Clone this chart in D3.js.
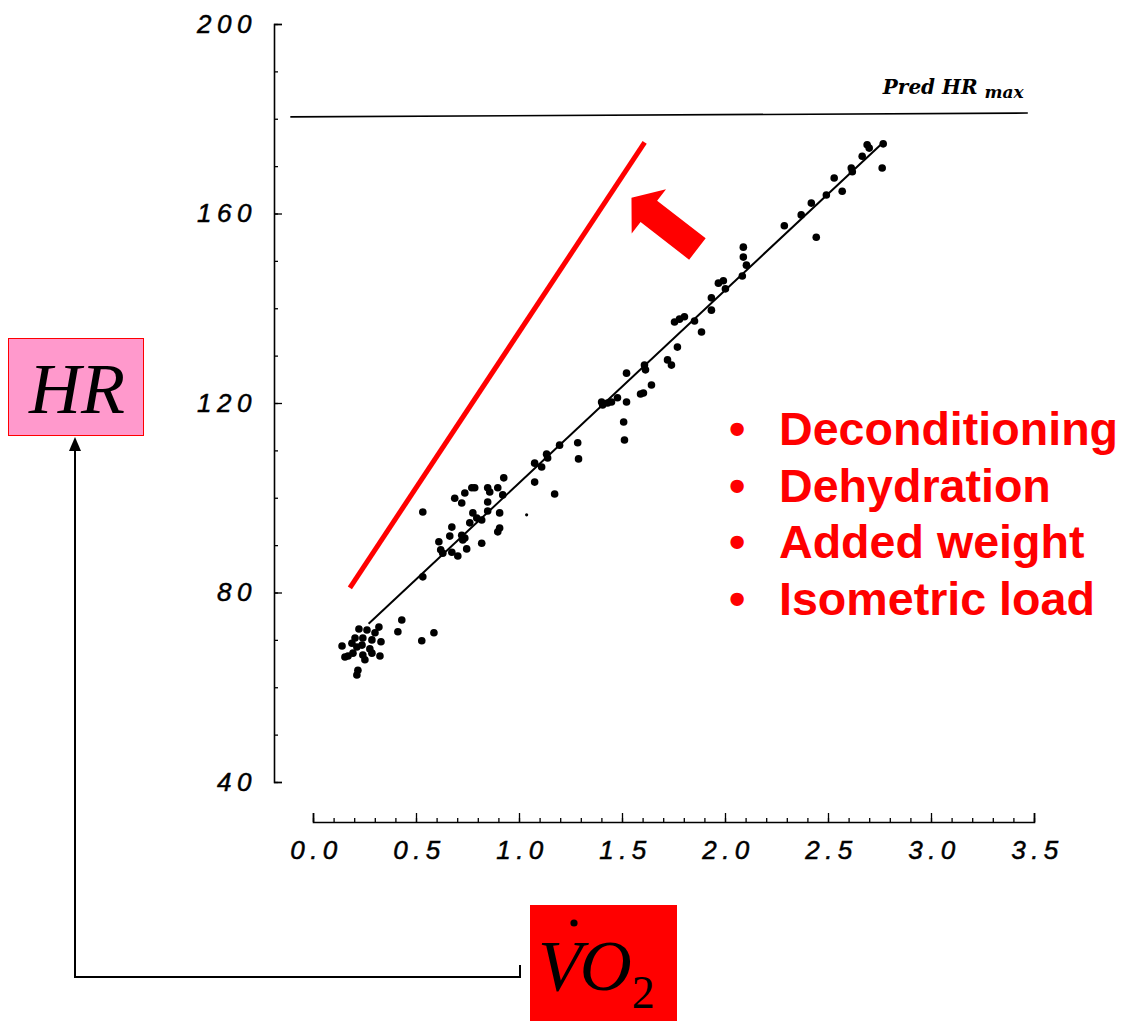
<!DOCTYPE html>
<html>
<head>
<meta charset="utf-8">
<script src="https://cdn.jsdelivr.net/npm/d3@7"></script>
<style>body{margin:0;background:#fff}</style>
</head>
<body>
<svg id="chart" width="1130" height="1021"></svg>
<script>
// data
var vo2 = [0.223,0.262,0.301,0.320,0.204,0.242,0.286,0.330,0.141,0.189,0.213,0.238,0.276,0.194,0.170,0.155,0.242,0.286,0.325,0.252,0.218,0.213,
  0.431,0.412,0.528,0.587,0.533,0.533,
  0.688,0.722,0.737,0.771,0.785,0.848,0.858,0.848,0.897,0.926,0.921,0.776,0.795,0.761,0.848,0.906,0.819,0.674,0.664,0.722,0.737,0.727,0.906,0.897,0.611,0.620,0.630,0.674,0.703,0.746,0.819,
  1.076,1.076,1.110,1.134,1.139,1.173,1.197,1.285,1.289,1.401,1.406,1.430,1.449,1.478,1.522,1.522,1.508,1.512,1.609,1.614,1.643,1.590,1.604,
  1.721,1.740,1.769,1.852,1.886,1.755,1.779,1.803,1.934,1.934,1.968,1.992,2.002,2.084,2.104,2.089,2.089,
  2.288,2.370,2.419,2.443,2.492,2.530,2.569,2.613,2.618,2.666,2.690,2.700,2.768,2.763];
var hr = [72.3,72.1,71.5,72.7,70.4,70.4,70.0,69.6,68.7,69.3,68.5,68.9,68.1,67.2,66.6,66.4,66.8,67.2,66.6,65.8,63.6,62.6,
  74.2,71.7,69.8,71.5,83.3,97.0,
  99.9,98.9,101.0,102.1,102.1,102.1,101.2,99.1,102.1,104.2,100.6,96.8,95.7,94.7,97.2,96.8,95.3,93.8,91.9,92.1,91.5,91.1,93.6,92.8,90.7,89.0,88.3,88.5,87.7,89.2,90.4,
  107.3,103.3,106.5,109.2,108.4,100.8,111.1,111.6,108.2,120.2,119.6,120.0,120.2,121.1,126.3,120.2,116.0,112.2,128.0,127.0,123.8,121.9,122.1,
  129.1,128.0,131.8,137.3,135.0,137.1,137.7,138.2,142.2,139.6,145.3,145.8,144.1,146.8,149.1,150.8,152.9,
  157.4,159.7,162.2,155.0,163.9,167.5,164.7,169.6,168.8,172.1,174.5,173.8,174.7,169.6];
var strayDot = [1.037, 96.4];

var fitX = [0.27, 2.77];
var fitY = [73.4, 175.1];
var predMaxX = [-0.11, 3.47];
var predMaxY = [180.4, 181.2];
var shiftedX = [0.179, 1.61];
var shiftedY = [81.0, 175.0];
var arrowTip = [1.546, 163.3];
var arrowTail = [1.866, 152.5];

var xTicks = [0, 0.5, 1, 1.5, 2, 2.5, 3, 3.5];
var xMinor = d3.range(0, 3.51, 0.1);
var yTicks = [40, 80, 120, 160, 200];
var yMinor = d3.range(40, 201, 10);
var causes = ["Deconditioning", "Dehydration", "Added weight", "Isometric load"];

var svg = d3.select("#chart");
var x = d3.scaleLinear().domain([0, 3.5]).range([313, 1034]);
var y = d3.scaleLinear().domain([40, 200]).range([782, 24]);
var axisX = 274, axisY = 822;

var tickFont = "'Liberation Sans', Arial, sans-serif";

// y axis
var gy = svg.append("g").attr("transform", "translate(" + axisX + ",0)")
  .call(d3.axisLeft(y).tickValues(yTicks).tickSize(-8).tickPadding(17).tickFormat(d3.format("d")));
svg.append("g").attr("transform", "translate(" + axisX + ",0)")
  .call(d3.axisLeft(y).tickValues(yMinor).tickSize(-4).tickFormat(""))
  .select(".domain").remove();

// x axis
var gx = svg.append("g").attr("transform", "translate(0," + axisY + ")")
  .call(d3.axisBottom(x).tickValues(xTicks).tickSize(-9).tickPadding(19).tickFormat(d3.format(".1f")));
svg.append("g").attr("transform", "translate(0," + axisY + ")")
  .call(d3.axisBottom(x).tickValues(xMinor).tickSize(-4).tickFormat(""))
  .select(".domain").remove();

[gy, gx].forEach(function (g) {
  g.attr("font-family", tickFont).attr("font-size", 26);
  g.selectAll("text").attr("font-style", "italic").attr("letter-spacing", 5.5)
    .attr("fill", "#000").attr("stroke", "#000").attr("stroke-width", 0.5);
});
gx.selectAll("text").attr("dx", 3);
svg.selectAll(".domain").attr("stroke-width", 1.6);
svg.selectAll(".tick line").attr("stroke-width", 1.3);

// predicted HR max
svg.append("line")
  .attr("x1", x(predMaxX[0])).attr("y1", y(predMaxY[0]))
  .attr("x2", x(predMaxX[1])).attr("y2", y(predMaxY[1]))
  .attr("stroke", "#000").attr("stroke-width", 1.6);
var pred = svg.append("text")
  .attr("x", x(3.45)).attr("y", y(predMaxY[1]) - 19)
  .attr("text-anchor", "end")
  .attr("font-family", "'DejaVu Serif', serif").attr("font-style", "italic").attr("font-weight", "bold")
  .attr("font-size", 20);
pred.append("tspan").text("Pred HR ");
pred.append("tspan").attr("dy", 4).attr("font-size", 17).text("max");

// shifted relation (red)
svg.append("line")
  .attr("x1", x(shiftedX[0])).attr("y1", y(shiftedY[0]))
  .attr("x2", x(shiftedX[1])).attr("y2", y(shiftedY[1]))
  .attr("stroke", "#ff0000").attr("stroke-width", 5);

// block arrow
var tx = x(arrowTip[0]), ty = y(arrowTip[1]);
var ex = x(arrowTail[0]), ey = y(arrowTail[1]);
var len = Math.hypot(ex - tx, ey - ty);
var ux = (ex - tx) / len, uy = (ey - ty) / len;
var px = -uy, py = ux;
var headLen = 22, headW = 28, shaftW = 13.5;
function pt(a, b) { return [tx + ux * a + px * b, ty + uy * a + py * b]; }
svg.append("polygon")
  .attr("points", [pt(0, 0), pt(headLen, headW), pt(headLen, shaftW), pt(len, shaftW),
    pt(len, -shaftW), pt(headLen, -shaftW), pt(headLen, -headW)].map(function (p) { return p.join(","); }).join(" "))
  .attr("fill", "#ff0000");

// fit line
svg.append("line")
  .attr("x1", x(fitX[0])).attr("y1", y(fitY[0]))
  .attr("x2", x(fitX[1])).attr("y2", y(fitY[1]))
  .attr("stroke", "#000").attr("stroke-width", 2);

// dots
svg.append("g").selectAll("circle").data(vo2).enter().append("circle")
  .attr("cx", function (d) { return x(d); })
  .attr("cy", function (d, i) { return y(hr[i]); })
  .attr("r", 3.8).attr("fill", "#000");
svg.append("circle").attr("cx", x(strayDot[0])).attr("cy", y(strayDot[1])).attr("r", 1.6).attr("fill", "#000");

// causes list
var list = svg.append("g").attr("font-family", "'Liberation Sans', Arial, sans-serif")
  .attr("font-weight", "bold").attr("font-size", 46.6).attr("fill", "#ff0000");
causes.forEach(function (c, i) {
  list.append("text").attr("x", 729).attr("y", 445 + i * 56.7).text("\u2022");
  list.append("text").attr("x", 779).attr("y", 445 + i * 56.7).text(c);
});

// HR label box
svg.append("rect").attr("x", 8.5).attr("y", 338.5).attr("width", 135).attr("height", 97)
  .attr("fill", "#ff99cc").attr("stroke", "#ff0000").attr("stroke-width", 1);
svg.append("text").attr("x", 77).attr("y", 413).attr("text-anchor", "middle")
  .attr("font-family", "'Liberation Serif', 'Times New Roman', serif").attr("font-style", "italic")
  .attr("font-size", 72).text("HR");

// connector
svg.append("path").attr("d", "M520,965 V977 H75 V449")
  .attr("fill", "none").attr("stroke", "#000").attr("stroke-width", 2);
svg.append("polygon").attr("points", "75,437 69,451 81,451").attr("fill", "#000");

// VO2 label box
svg.append("rect").attr("x", 530).attr("y", 905).attr("width", 147).attr("height", 116).attr("fill", "#ff0000");
var vo = svg.append("text").attr("x", 538).attr("y", 990)
  .attr("font-family", "'Liberation Serif', 'Times New Roman', serif").attr("font-style", "italic")
  .attr("font-size", 72).attr("fill", "#000");
vo.append("tspan").text("VO");
vo.append("tspan").attr("dy", 18).attr("font-size", 46).attr("font-style", "normal").text("2");
svg.append("circle").attr("cx", 574).attr("cy", 923).attr("r", 3.6).attr("fill", "#000");
</script>
</body>
</html>
